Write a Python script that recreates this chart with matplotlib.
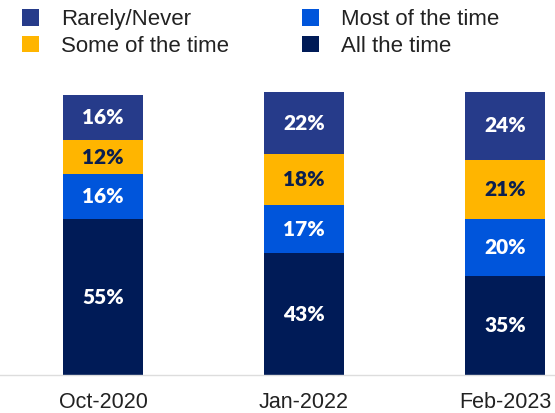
import matplotlib
matplotlib.use("Agg")
import matplotlib.pyplot as plt
from matplotlib.patches import Patch
import numpy as np

categories = ["Oct-2020", "Jan-2022", "Feb-2023"]
series_names = ["All the time", "Most of the time", "Some of the time", "Rarely/Never"]
all_time = [55, 43, 35]
most_time = [16, 17, 20]
some_time = [12, 18, 21]
rarely = [16, 22, 24]

values = [all_time, most_time, some_time, rarely]
colors = ["#001B57", "#0055DB", "#FFB500", "#263B8A"]
text_colors = ["white", "white", "#0B1F4F", "white"]

fig = plt.figure(figsize=(5.55, 4.13), dpi=100)
ax = fig.add_axes([0, 38 / 413, 1, 283 / 413])

x = np.arange(len(categories))
bottom = np.zeros(len(categories))
for name, vals, c, tc in zip(series_names, values, colors, text_colors):
    v = np.array(vals, dtype=float)
    ax.bar(x, v, bottom=bottom, width=0.4, color=c, edgecolor="none")
    for xi, bi, vi in zip(x, bottom, v):
        ax.text(xi, bi + vi / 2, f"{int(vi)}%", ha="center", va="center",
                color=tc, fontsize=15, fontweight="heavy", family="Lato")
    bottom += v

ax.set_xlim((0 - 103) / 201, (555 - 103) / 201)
ax.set_ylim(0, 100)
for s in ["top", "right", "left"]:
    ax.spines[s].set_visible(False)
ax.spines["bottom"].set_color("#DDDDDD")
ax.spines["bottom"].set_linewidth(1)
ax.set_yticks([])
ax.set_xticks(x)
ax.set_xticklabels(categories, fontsize=15.5, family="Liberation Sans", color="#222222")
ax.tick_params(axis="x", length=0, pad=12)

order = ["Rarely/Never", "Some of the time", "Most of the time", "All the time"]
cmap = dict(zip(series_names, colors))
handles = [Patch(facecolor=cmap[n], edgecolor="none") for n in order]
fig.legend(handles, order, ncol=2, loc="upper left", bbox_to_anchor=(22 / 555, 1 - 9 / 413),
           frameon=False, prop={"family": "Liberation Sans", "size": 16},
           borderpad=0, borderaxespad=0,
           handlelength=0.77, handleheight=0.77, handletextpad=1.0,
           columnspacing=3.25, labelspacing=0.25, labelcolor="#222222")

fig.savefig("out.png", dpi=100)
